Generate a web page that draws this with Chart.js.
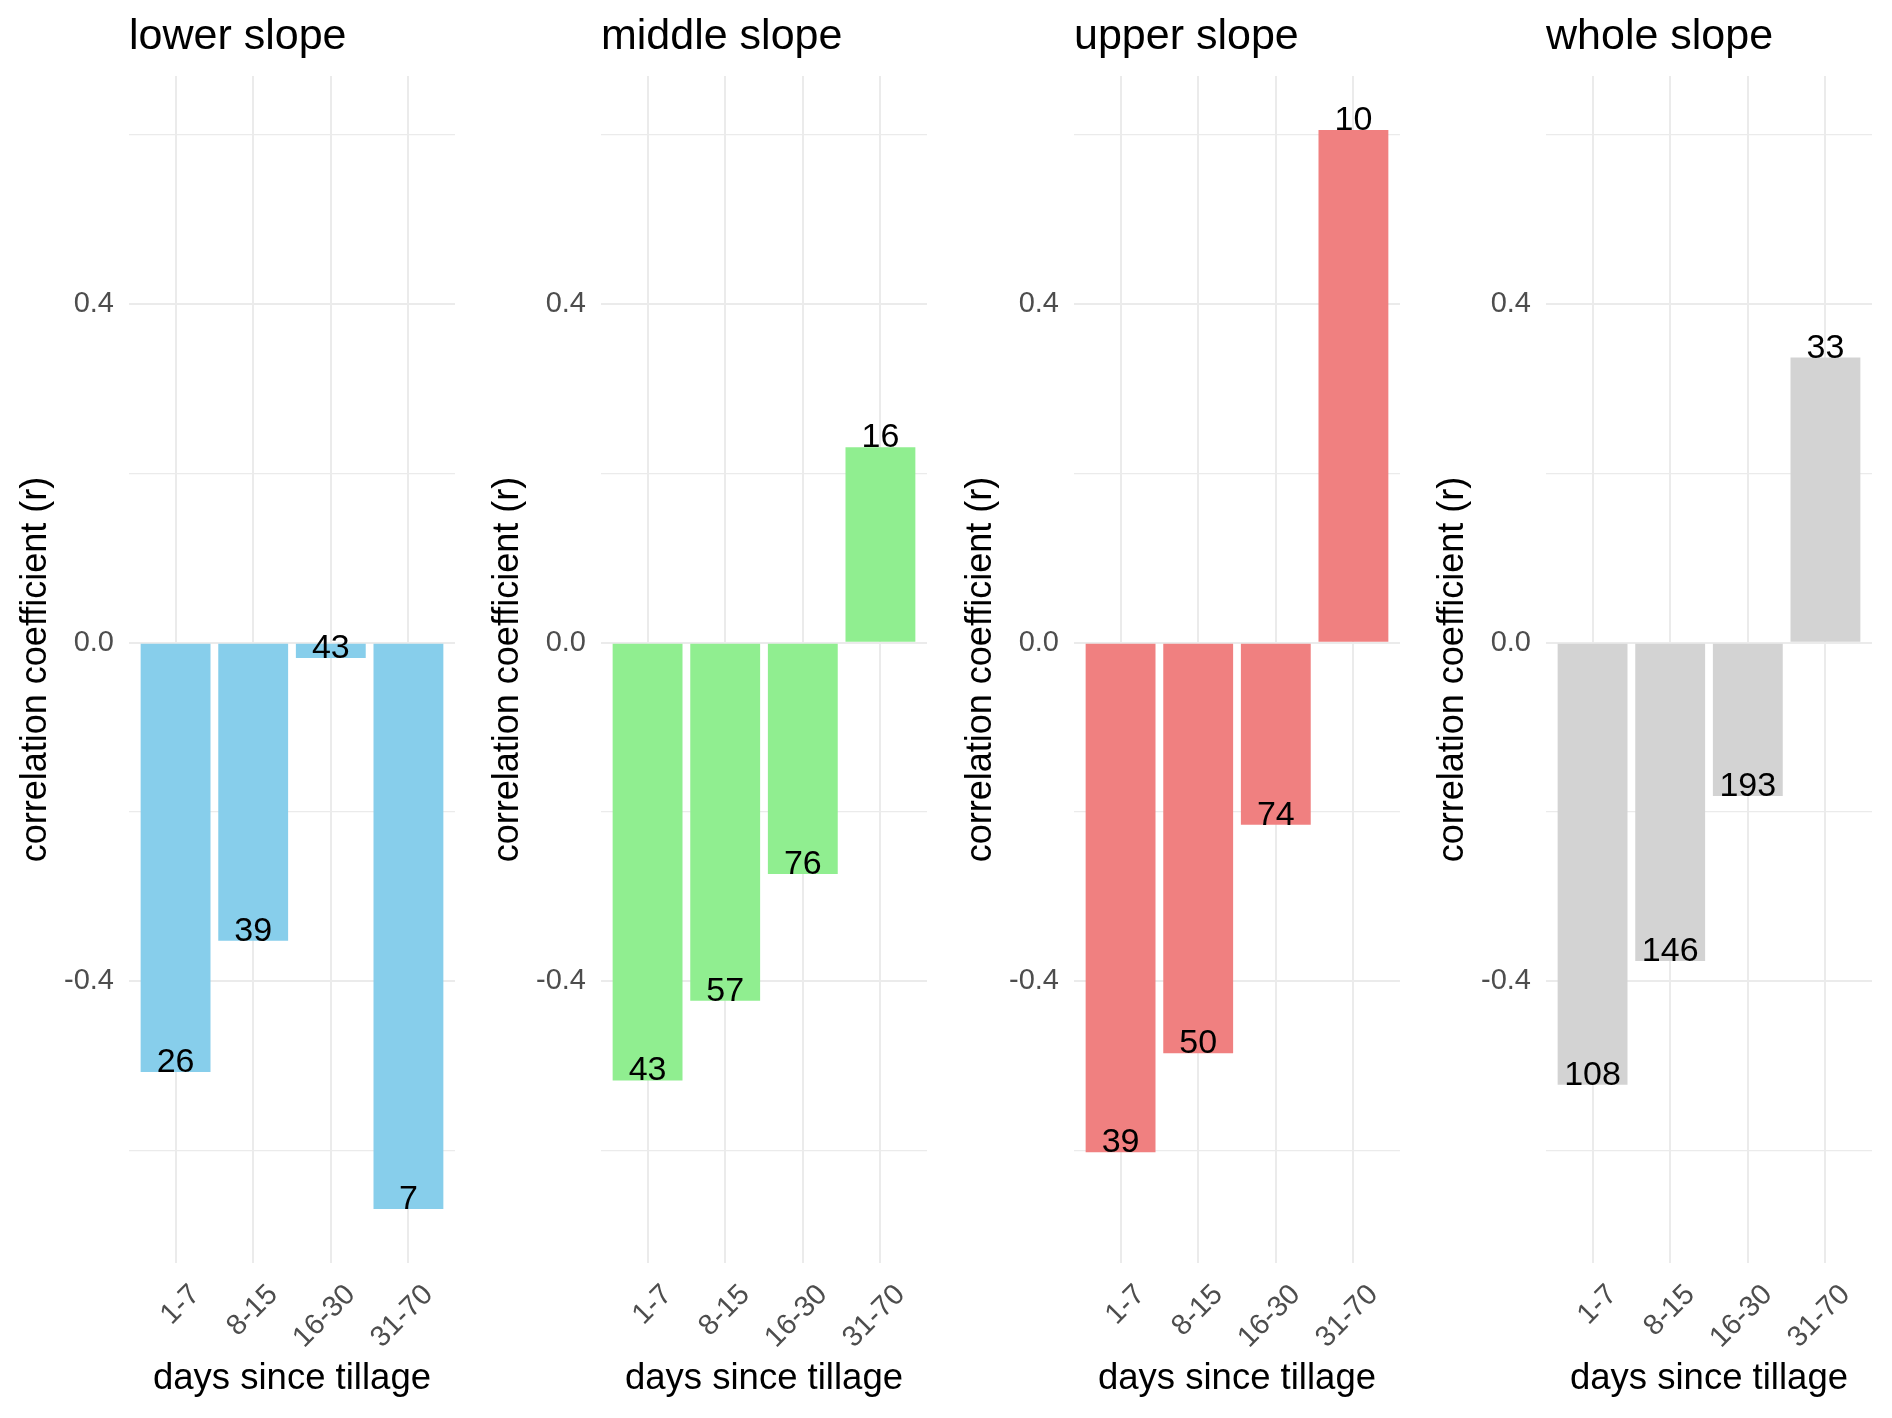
<!DOCTYPE html>
<html>
<head>
<meta charset="utf-8">
<script src="https://cdn.jsdelivr.net/npm/chart.js@4.4.1/dist/chart.umd.min.js"></script>
<style>
  html, body { margin: 0; padding: 0; background: #fff; }
  #wrap { position: relative; width: 1892px; height: 1418px; }
  #wrap canvas { position: absolute; top: 0; }
</style>
</head>
<body>
<div id="wrap">
  <canvas id="c0" width="472" height="1418" style="left:0px"></canvas>
  <canvas id="c1" width="472" height="1418" style="left:472px"></canvas>
  <canvas id="c2" width="472" height="1418" style="left:945px"></canvas>
  <canvas id="c3" width="472" height="1418" style="left:1417px"></canvas>
</div>
<script>
const categories = ["1-7", "8-15", "16-30", "31-70"];
const panelTitles = ["lower slope", "middle slope", "upper slope", "whole slope"];

// correlation coefficient (r) for each period
const lowerR = [-0.507, -0.352, -0.018, -0.669];
const middleR = [-0.517, -0.423, -0.273, 0.231];
const upperR = [-0.602, -0.485, -0.215, 0.606];
const wholeR = [-0.522, -0.376, -0.181, 0.337];

// number of samples, printed at the bar ends
const lowerN = [26, 39, 43, 7];
const middleN = [43, 57, 76, 16];
const upperN = [39, 50, 74, 10];
const wholeN = [108, 146, 193, 33];

const yTickLabels = [-0.4, 0.0, 0.4];

const panels = [
  { r: lowerR, n: lowerN, color: "#87CEEB" },
  { r: middleR, n: middleN, color: "#90EE90" },
  { r: upperR, n: upperN, color: "#F08080" },
  { r: wholeR, n: wholeN, color: "#D3D3D3" },
];

const FONT = '"Liberation Sans", Arial, sans-serif';
Chart.defaults.font.family = FONT;

// shared y scale like facet_wrap, 5% expansion
const allR = [...lowerR, ...middleR, ...upperR, ...wholeR];
const rMin = Math.min(...allR);
const rMax = Math.max(...allR);
const rPad = (rMax - rMin) * 0.05;

const isLabelled = (v) => yTickLabels.some((t) => Math.abs(t - v) < 1e-6);

const barLabels = {
  id: "barLabels",
  afterDatasetsDraw(chart, args, opts) {
    const ctx = chart.ctx;
    const meta = chart.getDatasetMeta(0);
    ctx.save();
    ctx.font = "34px " + FONT;
    ctx.fillStyle = "#000";
    ctx.textAlign = "center";
    ctx.textBaseline = "alphabetic";
    meta.data.forEach((bar, i) => ctx.fillText(String(opts.labels[i]), bar.x, bar.y));
    ctx.restore();
  },
};

panels.forEach((p, k) => {
  new Chart(document.getElementById("c" + k), {
    type: "bar",
    data: {
      datasets: [
        {
          data: p.r.map((v, i) => ({ x: i + 1, y: v })),
          backgroundColor: p.color,
          borderWidth: 0,
          categoryPercentage: 1,
          barPercentage: 0.9,
        },
      ],
    },
    plugins: [barLabels],
    options: {
      responsive: false,
      animation: false,
      layout: { padding: { top: 0, right: 17, bottom: 0, left: 0 } },
      plugins: {
        legend: { display: false },
        tooltip: { enabled: false },
        title: {
          display: true,
          text: panelTitles[k],
          align: "start",
          fullSize: false,
          color: "#000",
          font: { size: 43, weight: "normal" },
          padding: { top: 11, bottom: 13.4 },
        },
        barLabels: { labels: p.n },
      },
      scales: {
        x: {
          type: "linear",
          min: 0.4,
          max: 4.6,
          offset: false,
          border: { display: false },
          grid: { offset: false, color: "#ebebeb", lineWidth: 2, drawTicks: false },
          afterFit: (s) => { s.height = 155; },
          ticks: {
            stepSize: 1,
            includeBounds: false,
            autoSkip: false,
            minRotation: 45,
            maxRotation: 45,
            labelOffset: 20,
            padding: 15,
            color: "#4d4d4d",
            font: { size: 29 },
            callback: (v) => categories[v - 1] || "",
          },
          title: {
            display: true,
            text: "days since tillage",
            color: "#000",
            font: { size: 36.5 },
            padding: { top: 0, bottom: 17 },
          },
        },
        y: {
          min: rMin - rPad,
          max: rMax + rPad,
          border: { display: false },
          grid: {
            color: "#ebebeb",
            drawTicks: false,
            lineWidth: (c) => (isLabelled(c.tick.value) ? 2 : 1.3),
          },
          afterFit: (s) => { s.width = 129; },
          ticks: {
            stepSize: 0.2,
            includeBounds: false,
            autoSkip: false,
            padding: 15,
            color: "#4d4d4d",
            font: { size: 29 },
            callback: (v) => (isLabelled(v) ? v.toFixed(1) : ""),
          },
          title: {
            display: true,
            text: "correlation coefficient (r)",
            color: "#000",
            font: { size: 36 },
            padding: { top: 14, bottom: 0 },
          },
        },
      },
    },
  });
});
</script>
</body>
</html>
